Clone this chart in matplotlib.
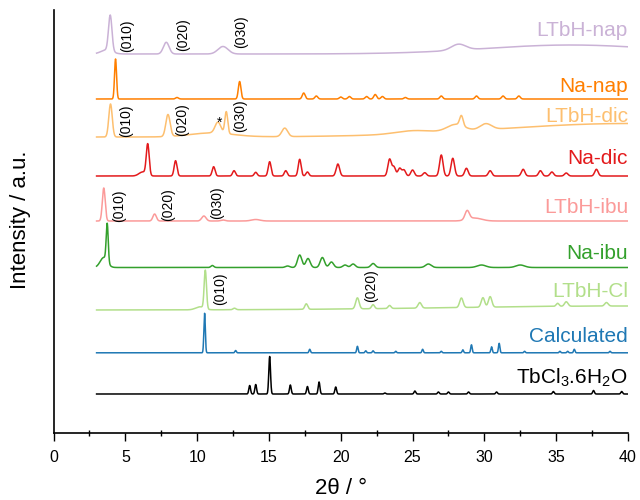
import numpy as np
import matplotlib
matplotlib.use('Agg')
import matplotlib.pyplot as plt

plt.rcParams['font.family'] = ['Liberation Sans', 'DejaVu Sans']
plt.rcParams['mathtext.fontset'] = 'custom'
plt.rcParams['mathtext.rm'] = 'Liberation Sans'
plt.rcParams['mathtext.default'] = 'regular'

# patterns, bottom to top. peaks: 2theta, height, width
names = ['TbCl$_3$.6H$_2$O', 'Calculated', 'LTbH-Cl', 'Na-ibu', 'LTbH-ibu',
         'Na-dic', 'LTbH-dic', 'Na-nap', 'LTbH-nap']
colors = ['#000000', '#1f78b4', '#b2df8a', '#33a02c', '#fb9a99',
          '#e31a1c', '#fdbf6f', '#ff7f00', '#cab2d6']
offsets = [39, 80.2, 123, 165.5, 212, 257, 296, 334, 379]
label_y = [49, 91.3, 136.3, 174, 220.3, 268.7, 310.7, 340.7, 397.3]

tbcl_pos = [13.66, 14.08, 15.05, 16.49, 17.68, 18.49, 19.65, 23.07, 25.16, 26.8, 27.5, 28.9, 30.85, 34.8, 37.6, 39.56]
tbcl_h = [8.5, 9.5, 37.5, 9, 7.5, 12, 7, 1, 3, 2, 2, 2, 2, 2.5, 3.5, 2.5]
tbcl_w = [0.06] * 16

calc_pos = [10.52, 12.68, 17.84, 21.16, 21.74, 22.25, 23.83, 25.7, 27.0, 28.5, 29.1, 30.5, 31.03, 32.8, 35.26, 35.8, 36.26, 38.75]
calc_h = [39.5, 2.3, 3.5, 6.5, 2, 2, 1.5, 3.5, 1.5, 3, 8, 6, 9.5, 1.5, 1.5, 1.5, 3.5, 1.5]
calc_w = [0.05] * 18

cl_pos = [10.2, 10.57, 12.6, 17.6, 21.16, 22.25, 23.4, 25.5, 28.4, 29.9, 30.4, 35.1, 35.7, 38.5, 40.0]
cl_h = [3, 38.3, 1.5, 5.5, 11, 4, 3, 5.5, 9.5, 9.5, 10.5, 3, 4.5, 3.5, 4]
cl_w = [0.3, 0.08, 0.1, 0.1, 0.12, 0.1, 0.1, 0.12, 0.12, 0.12, 0.12, 0.1, 0.12, 0.12, 12]

naibu_pos = [3.5, 3.74, 11.06, 16.3, 17.14, 17.72, 18.72, 19.35, 20.3, 20.86, 22.25, 26.1, 29.8, 32.5]
naibu_h = [10, 38, 2, 1.5, 12.5, 9, 10, 5.5, 2.5, 3.5, 4, 3.5, 2.5, 2.5]
naibu_w = [0.25, 0.07, 0.1, 0.15, 0.15, 0.15, 0.15, 0.15, 0.15, 0.15, 0.15, 0.2, 0.3, 0.3]

ltibu_pos = [3.5, 7.04, 10.47, 11.8, 14.08, 28.8, 29.3]
ltibu_h = [33, 7, 5, 1, 1.5, 8.8, 3]
ltibu_w = [0.1, 0.12, 0.15, 0.15, 0.3, 0.15, 0.5]

nadic_pos = [6.2, 6.56, 8.5, 11.15, 12.57, 14.08, 15.05, 16.17, 17.14, 17.68, 19.8, 23.4, 23.7, 24.1, 24.4,
             25.0, 25.85, 27.0, 27.8, 28.75, 30.4, 32.7, 33.9, 34.7, 35.7, 37.8]
nadic_h = [4, 31, 15.3, 9.3, 5.3, 3.7, 14.3, 5.3, 16.7, 4, 12, 16.7, 9, 7.7, 6,
           6, 3.3, 21, 17.7, 7.7, 5.3, 6.7, 5.3, 4, 3, 6.7]
nadic_w = [0.25] + [0.1] * 9 + [0.12] * 16

ltdic_pos = [3.97, 7.97, 11.0, 11.45, 12.03, 16.1, 25.0, 28.0, 28.4, 30.1, 40.0]
ltdic_h = [33, 22, 4, 11, 22, 8.5, 3, 7, 10, 6, 13.5]
ltdic_w = [0.12, 0.15, 1.5, 0.2, 0.1, 0.2, 1.2, 0.6, 0.12, 0.4, 9]

nanap_pos = [4.32, 8.6, 12.96, 17.42, 18.3, 20.0, 20.6, 21.8, 22.4, 22.9, 24.5, 27.0, 29.45, 31.3, 32.4]
nanap_h = [40, 1.5, 17.5, 6, 3, 2, 2.5, 2.5, 4.5, 2.5, 1.5, 3, 3, 3, 3]
nanap_w = [0.07, 0.1, 0.09] + [0.1] * 12

ltnap_pos = [3.7, 3.95, 7.85, 11.8, 28.2, 36.0]
ltnap_h = [4, 35.7, 11.7, 7.5, 6, 9]
ltnap_w = [0.4, 0.12, 0.2, 0.35, 0.5, 6]

peaks = [(tbcl_pos, tbcl_h, tbcl_w), (calc_pos, calc_h, calc_w), (cl_pos, cl_h, cl_w),
         (naibu_pos, naibu_h, naibu_w), (ltibu_pos, ltibu_h, ltibu_w), (nadic_pos, nadic_h, nadic_w),
         (ltdic_pos, ltdic_h, ltdic_w), (nanap_pos, nanap_h, nanap_w), (ltnap_pos, ltnap_h, ltnap_w)]

# (hkl) marks: text, 2theta, y
hkl_text = ['(010)', '(020)', '(030)', '(010)', '(020)', '(030)', '(010)', '(020)', '(030)', '(010)', '(020)']
hkl_x = [5.16, 9.06, 13.08, 5.04, 8.97, 12.96, 4.55, 7.97, 11.4, 11.61, 22.14]
hkl_y = [381.3, 382, 384.7, 296.3, 297, 301.3, 211.3, 212.3, 214, 128, 131.3]

tt = np.arange(3, 40.001, 0.01)


def pattern(pos, h, w):
    y = np.zeros_like(tt)
    for p, a, s in zip(pos, h, w):
        y += a * np.exp(-0.5 * ((tt - p) / s) ** 2)
    return y


fig = plt.figure(figsize=(6.4, 5), dpi=100)
ax = fig.add_axes([53.5 / 640, 67 / 500, 574.5 / 640, 423 / 500])

for name, c, off, ly, (pos, h, w) in zip(names, colors, offsets, label_y, peaks):
    ax.plot(tt, off + pattern(pos, h, w), color=c, lw=1.1)
    ax.text(40, ly, name, color=c, fontsize=15, ha='right', va='baseline')

for t, x, y in zip(hkl_text, hkl_x, hkl_y):
    ax.text(x, y, t, fontsize=10, rotation=90, ha='center', va='bottom')
ax.text(11.57, 310, '*', fontsize=10, ha='center', va='center')

ax.set_xlim(0, 40)
ax.set_ylim(0, 423)
ax.set_xticks(np.arange(0, 41, 5))
ax.set_xticks(np.arange(2.5, 40, 5), minor=True)
ax.set_yticks([])
ax.tick_params(axis='x', which='major', direction='out', length=5.5, width=1, labelsize=11.5, pad=7)
ax.tick_params(axis='x', which='minor', direction='inout', length=4, width=1)
for s in ['top', 'right']:
    ax.spines[s].set_visible(False)
for s in ['left', 'bottom']:
    ax.spines[s].set_linewidth(1.2)

ax.set_xlabel('2θ / °', fontsize=16, labelpad=9)
fig.text(21 / 640, 1 - 220 / 500, 'Intensity / a.u.', fontsize=16, rotation=90, ha='center', va='center')

fig.savefig('out.png', dpi=100)
